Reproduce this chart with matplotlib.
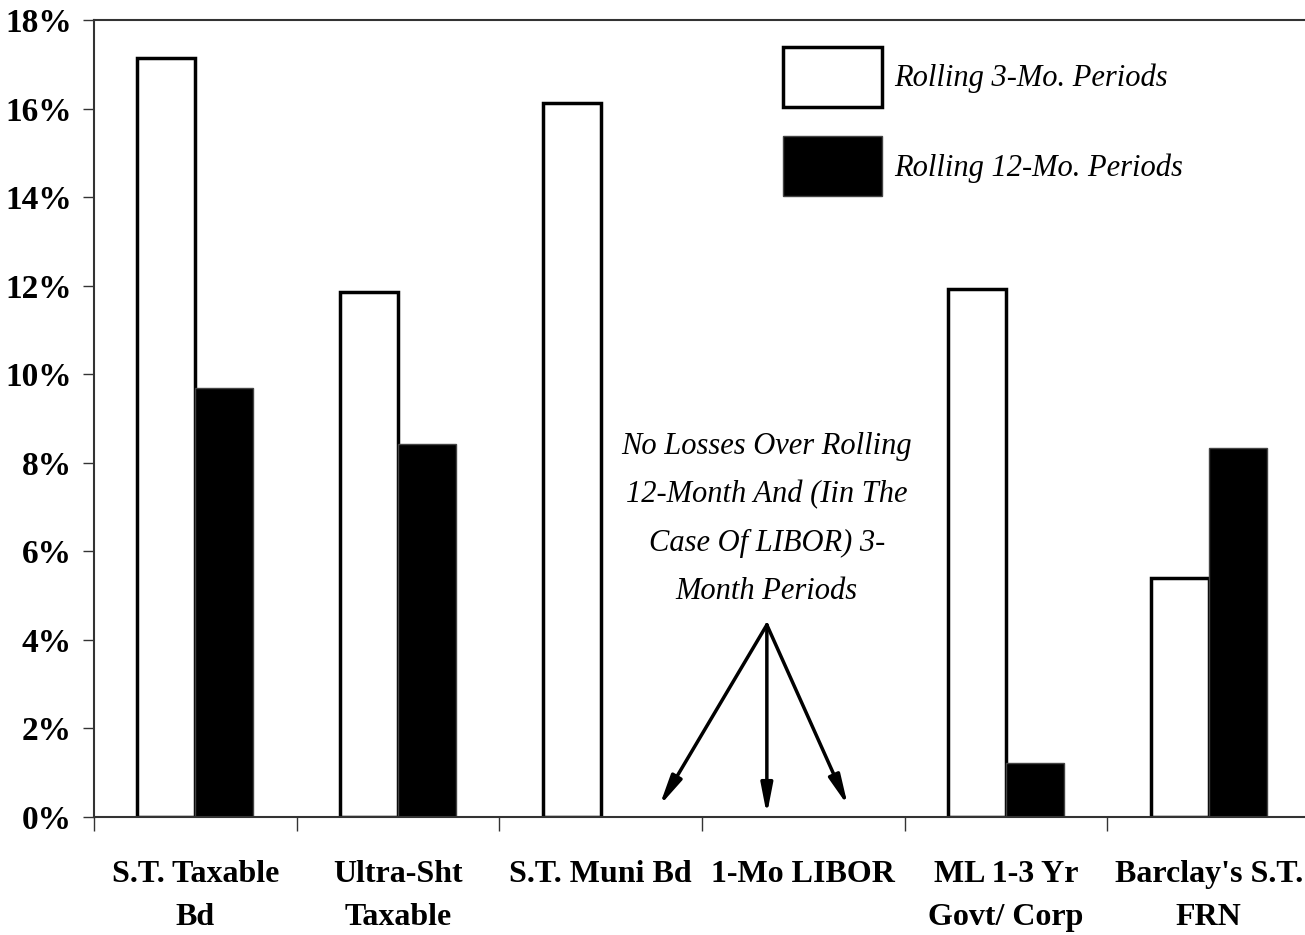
import matplotlib.pyplot as plt
import numpy as np
from matplotlib.patches import Patch

CATEGORIES = ["S.T. Taxable\nBd", "Ultra-Sht\nTaxable", "S.T. Muni Bd", "1-Mo LIBOR",
              "ML 1-3 Yr\nGovt/ Corp", "Barclay's S.T.\nFRN"]
ROLLING_3MO = [17.15, 11.85, 16.12, 0.0, 11.92, 5.40]
ROLLING_12MO = [9.68, 8.42, 0.0, 0.0, 1.22, 8.33]
SERIES = ["Rolling 3-Mo. Periods", "Rolling 12-Mo. Periods"]
NOTE = "No Losses Over Rolling\n12-Month And (Iin The\nCase Of LIBOR) 3-\nMonth Periods"

plt.rcParams['font.family'] = ['Liberation Serif', 'DejaVu Serif']

fig = plt.figure(figsize=(13.05, 9.35), dpi=100)
# axes run slightly past the right edge of the figure
ax = fig.add_axes([94 / 1305, 118 / 935, 1216 / 1305, 797 / 935])

xs = np.arange(len(CATEGORIES)) + 0.5
w = 0.286
for i, (a, b) in enumerate(zip(ROLLING_3MO, ROLLING_12MO)):
    if a > 0:
        ax.bar(xs[i] - w / 2, a, width=w, facecolor="white", edgecolor="black", linewidth=2.5)
    if b > 0:
        ax.bar(xs[i] + w / 2, b, width=w, facecolor="black", edgecolor="#444444", linewidth=1)

ax.set_xlim(0, len(CATEGORIES))
ax.set_ylim(0, 18)
ax.set_yticks(np.arange(0, 19, 2))
ax.set_yticklabels([f"{v}%" for v in range(0, 19, 2)], fontsize=24, fontweight="bold")
ax.set_xticks(np.arange(len(CATEGORIES) + 1), minor=False)
ax.set_xticklabels([])
ax.set_xticks(xs, minor=True)
ax.set_xticklabels(CATEGORIES, minor=True, fontsize=23, fontweight="bold", linespacing=1.65)
ax.tick_params(axis="x", which="major", direction="out", length=10, width=1, color="#333333")
ax.tick_params(axis="x", which="minor", length=0, pad=31)
ax.tick_params(axis="y", direction="out", length=8, width=1, pad=8, color="#333333")
for s in ["left", "bottom", "top"]:
    ax.spines[s].set_linewidth(1.5)
    ax.spines[s].set_color("#333333")
ax.spines["right"].set_visible(False)

handles = [Patch(facecolor="white", edgecolor="black", linewidth=2.5),
           Patch(facecolor="black", edgecolor="#444444")]
ax.legend(handles, SERIES, loc="upper left", bbox_to_anchor=(0.5666, 0.966),
          frameon=False, borderpad=0, borderaxespad=0,
          handlelength=3.25, handleheight=2.65, handletextpad=0.4,
          labelspacing=0.95, prop={"style": "italic", "size": 22})

ax.text(3.32, 6.73, NOTE, ha="center", va="center", fontsize=22, style="italic",
        linespacing=1.87)
origin = (3.32, 4.34)
for tx, ty in [(2.79, 0.25), (3.32, 0.05), (3.72, 0.25)]:
    ax.annotate("", xy=(tx, ty), xytext=origin,
                arrowprops=dict(arrowstyle="-|>,head_length=1.8,head_width=0.35",
                                color="black", lw=2.5, shrinkA=0, shrinkB=0))

fig.savefig("out.png", dpi=100)
